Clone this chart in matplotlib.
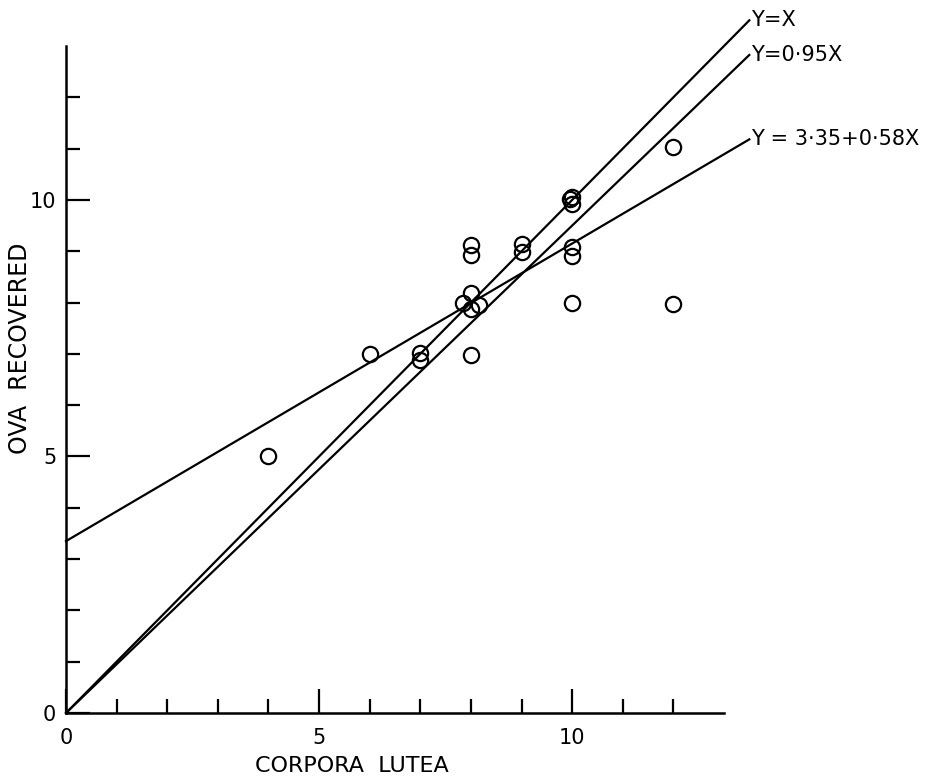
import matplotlib
matplotlib.use("Agg")
import matplotlib.pyplot as plt
import numpy as np

plt.rcParams['font.family'] = ['DejaVu Sans']

# Data
corpora_lutea = [4, 6, 7, 7, 7.85, 8.0, 8.15, 8.0, 8, 8, 8, 9, 9, 10, 10, 9.95, 10, 10, 10, 12, 12]
ova_recovered = [5, 7, 7.02, 6.88, 8.0, 8.18, 7.95, 7.88, 9.12, 8.93, 6.98, 9.15, 8.98, 10.05, 9.92, 10.02, 9.08, 8.9, 7.99, 7.97, 11.03]

line_labels = ["Y=X", "Y=0\u00b795X", "Y = 3\u00b735+0\u00b758X"]
line_intercepts = [0.0, 0.0, 3.35]
line_slopes = [1.0, 0.95, 0.58]

fig = plt.figure(figsize=(9.44, 7.84), dpi=100)
ax = fig.add_axes([66/944, 71/784, 658/944, 667/784])

ax.set_xlim(0, 13)
ax.set_ylim(0, 13)

xl = np.array([0, 13.5])
for lab, a, b in zip(line_labels, line_intercepts, line_slopes):
    yl = a + b * xl
    ax.plot(xl, yl, color='black', lw=1.6, clip_on=False)
    ax.text(xl[-1] + 0.03, yl[-1], lab, fontsize=15, va='center', ha='left')

ax.plot(corpora_lutea, ova_recovered, 'o', mfc='none', mec='black', mew=1.6,
        ms=11, clip_on=False)

for s in ['top', 'right']:
    ax.spines[s].set_visible(False)
for s in ['left', 'bottom']:
    ax.spines[s].set_linewidth(1.8)

ax.set_xticks([0, 5, 10])
ax.set_yticks([0, 5, 10])
ax.set_xticks([i for i in range(1, 13) if i % 5], minor=True)
ax.set_yticks([i for i in range(1, 13) if i % 5], minor=True)
ax.tick_params(which='major', direction='in', length=17, width=1.6, labelsize=15)
ax.tick_params(which='minor', direction='in', length=10, width=1.6)
ax.tick_params(axis='x', which='major', pad=11)
ax.tick_params(axis='y', which='major', pad=7)

ax.set_xlabel("CORPORA  LUTEA", fontsize=16)
ax.xaxis.set_label_coords(0.435, -0.064)
ax.set_ylabel("OVA  RECOVERED", fontsize=17)
ax.yaxis.set_label_coords(-0.052, 0.547)

fig.savefig("out.png", dpi=100)
